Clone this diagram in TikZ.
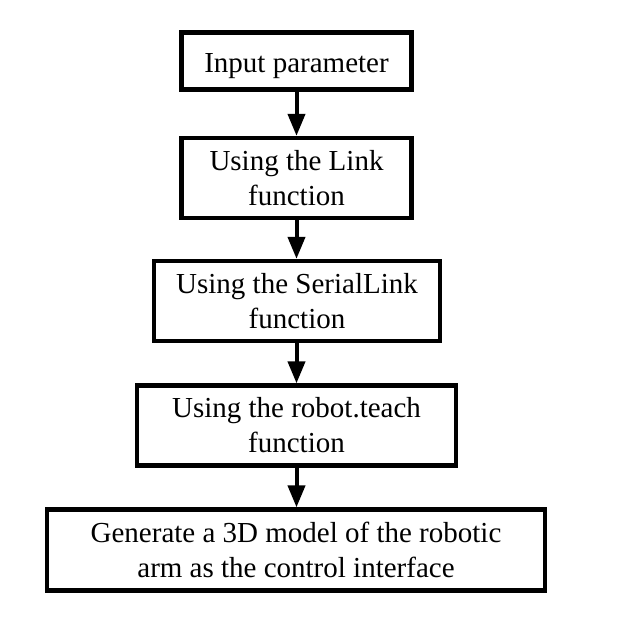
\documentclass[tikz,border=0pt]{standalone}
\usepackage{fontspec}
\setmainfont{Liberation Serif}
\usetikzlibrary{arrows.meta}
\begin{document}
\begin{tikzpicture}[x=1pt,y=-1pt,
  box/.style={draw=black,line width=4.3pt,rectangle,inner sep=0pt,align=center,
    font=\fontsize{29}{35}\selectfont},
  conn/.style={line width=4pt,-{Triangle[width=17pt,length=22pt]}}]
\useasboundingbox (0,0) rectangle (617,624);
\node[box,minimum width=230pt,minimum height=57pt,text height=28pt,text depth=6pt] (b1) at (296.5,61) {Input parameter};
\node[box,minimum width=230pt,minimum height=80pt] (b2) at (296.5,178) {Using the Link\\function};
\node[box,minimum width=286pt,minimum height=80pt] (b3) at (297,301) {Using the SerialLink\\function};
\node[box,minimum width=319pt,minimum height=80pt] (b4) at (296.5,425.5) {Using the robot.teach\\function};
\node[box,minimum width=498pt,minimum height=81pt] (b5) at (296,550) {Generate a 3D model of the robotic\\arm as the control interface};
\draw[conn] (b1.south) -- (b2.north);
\draw[conn] (b2.south) -- (b3.north -| b2.south);
\draw[conn] (b3.south -| b2.south) -- (b4.north -| b2.south);
\draw[conn] (b4.south) -- (b5.north -| b4.south);
\end{tikzpicture}
\end{document}
